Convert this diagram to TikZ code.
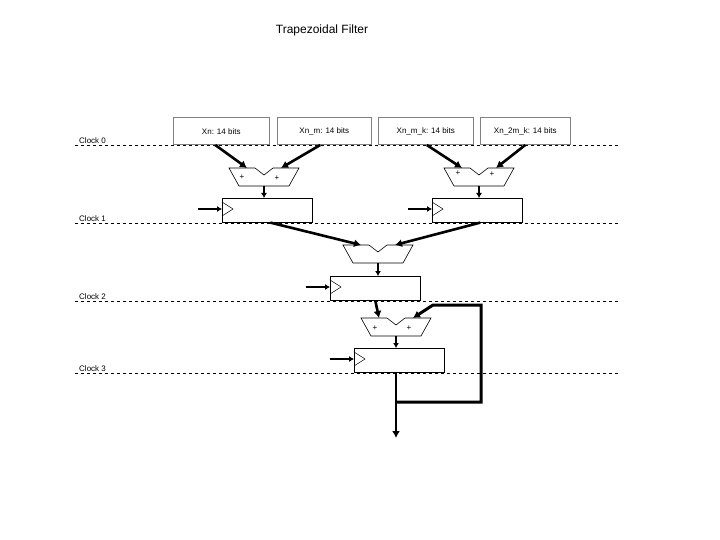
\documentclass[tikz,border=0pt]{standalone}
\usepackage{fontspec}
\setmainfont{Liberation Sans}
\usetikzlibrary{arrows.meta}
\begin{document}
\begin{tikzpicture}[x=1pt,y=-1pt,
 clk/.style={dashed,line width=0.6pt},
 lbl/.style={font=\fontsize{8}{9}\selectfont,inner sep=0pt},
 inbox/.style={draw=gray,line width=0.5pt,font=\fontsize{8}{9}\selectfont},
 reg/.style={draw,line width=0.6pt,minimum width=90pt,minimum height=24pt,inner sep=0pt},
 thick arrow/.style={line width=2.6pt,-{Latex[length=7pt,width=8pt]}},
 small arrow/.style={line width=1.5pt,-{Latex[length=5pt,width=6pt]}}]
\useasboundingbox (0,0) rectangle (720,540);
\node[font=\fontsize{12}{14}\selectfont] (title) at (322,30) {Trapezoidal Filter};
% clock lines
\foreach \y/\n in {145/0,223/1,301/2,373/3}{
 \draw[clk] (75,\y) -- (620,\y);
 \node[lbl,anchor=south west] (c\n) at (79,\y-1) {Clock \n};
}
% inputs
\node[inbox,fill=white,minimum width=96pt,minimum height=27pt,anchor=south west] (x1) at (173,145) {Xn: 14 bits};
\node[inbox,fill=white,minimum width=94pt,minimum height=27pt,anchor=south west] (x2) at (277,145) {Xn\_m: 14 bits};
\node[inbox,fill=white,minimum width=95pt,minimum height=27pt,anchor=south west] (x3) at (378,145) {Xn\_m\_k: 14 bits};
\node[inbox,fill=white,minimum width=90pt,minimum height=27pt,anchor=south west] (x4) at (480,145) {Xn\_2m\_k: 14 bits};
% adder macro
\newcommand\myadder[3]{% center x, top y, name
 \draw[fill=white,line width=0.6pt] (#1-35,#2) -- (#1-9,#2) -- (#1,#2+7) -- (#1+9,#2) -- (#1+35,#2) -- (#1+25,#2+18) -- (#1-25,#2+18) -- cycle;
 \coordinate (#3t) at (#1,#2); \coordinate (#3b) at (#1,#2+18);
 \coordinate (#3l) at (#1-17,#2); \coordinate (#3r) at (#1+17,#2);
}
\newcommand\myreg[3]{% left x, top y, name
 \node[reg,anchor=north west] (#3) at (#1,#2) {};
 \draw[line width=0.5pt] (#1,#2+4) -- (#1+11,#2+11) -- (#1,#2+18);
 \coordinate (#3ck) at (#1-24,#2+11);
 \draw[small arrow] (#3ck) -- (#1,#2+11);
}
\myadder{264}{168}{a1}
\myadder{479}{168}{a2}
\myadder{378}{245}{a3}
\myadder{396}{318}{a4}
\node[lbl] (p1) at (242,177) {+};
\node[lbl] (p2) at (277,178) {+};
\node[lbl] (p3) at (458,173) {+};
\node[lbl] (p4) at (492,174) {+};
\node[lbl] (p5) at (375,328) {+};
\node[lbl] (p6) at (409,328) {+};
\myreg{222}{198}{r1}
\myreg{432}{198}{r2}
\myreg{330}{276}{r3}
\myreg{354}{348}{r4}
% input arrows
\draw[thick arrow] ([xshift=-6pt]x1.south) -- (a1l);
\draw[thick arrow] ([xshift=-4pt]x2.south) -- (a1r);
\draw[thick arrow] ([xshift=1pt]x3.south) -- (a2l);
\draw[thick arrow] (x4.south) -- (a2r);
\draw[small arrow] (a1b) -- (264,198);
\draw[small arrow] (a2b) -- (479,198);
\draw[thick arrow] ([xshift=3pt]r1.south) -- (a3l);
\draw[thick arrow] ([xshift=3pt]r2.south) -- (a3r);
\draw[small arrow] (a3b) -- (378,276);
\draw[thick arrow] (r3.south) -- (a4l);
\draw[small arrow] (a4b) -- (396,348);
\coordinate (out) at (396,438);
\draw[thick arrow] (396,372) -- (out);
\draw[line width=3pt,-{Latex[length=7pt,width=8pt]}] (396,402) -- (481,402) -- (481,305) -- (433,305) -- (a4r);
\end{tikzpicture}
\end{document}
